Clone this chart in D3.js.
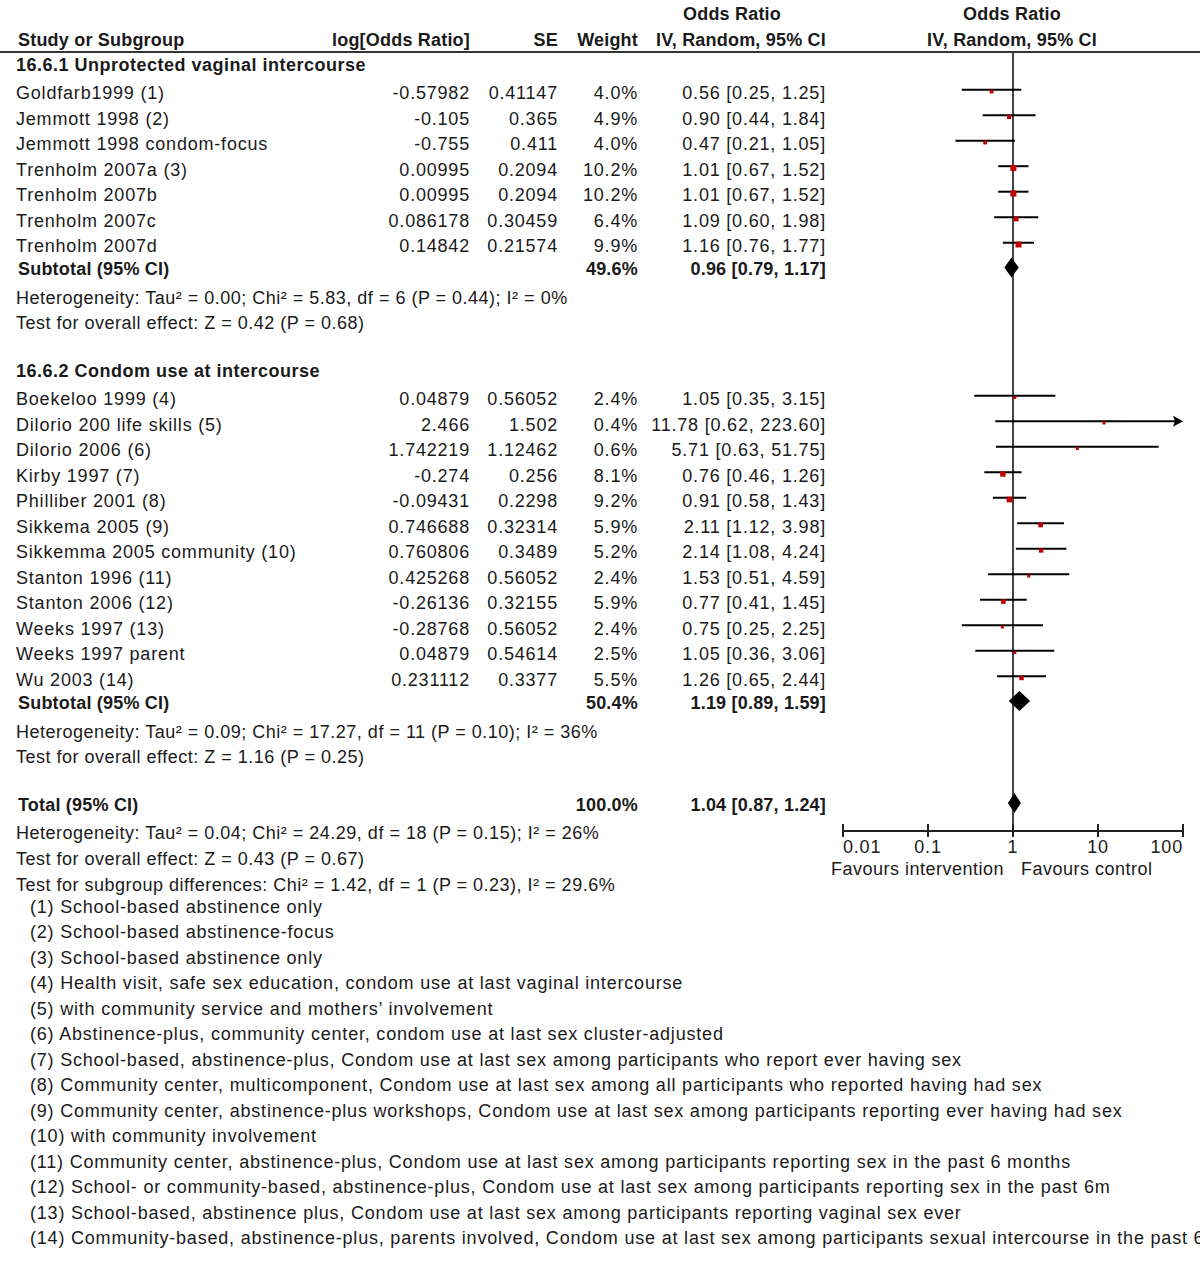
<!DOCTYPE html>
<html>
<head>
<meta charset="utf-8">
<script src="https://cdn.jsdelivr.net/npm/d3@7"></script>
<style>
  body { margin: 0; background: #fff; }
  svg { display: block; }
  text { font-family: "Liberation Sans", Arial, sans-serif; font-size: 18px; fill: #1a1a1a; }
  .reg { letter-spacing: 0.8px; }
  .note { letter-spacing: 0.5px; }
  .bold { font-weight: bold; letter-spacing: 0.2px; }
  .heading { font-weight: bold; letter-spacing: 0.5px; }
</style>
</head>
<body>
<svg id="chart" width="1200" height="1267"></svg>
<script>
// ---- data ----
let group1Title = '16.6.1 Unprotected vaginal intercourse'
let group1Names = ['Goldfarb1999 (1)', 'Jemmott 1998 (2)', 'Jemmott 1998 condom-focus', 'Trenholm 2007a (3)',
  'Trenholm 2007b', 'Trenholm 2007c', 'Trenholm 2007d']
let group1LogOR = ['-0.57982', '-0.105', '-0.755', '0.00995', '0.00995', '0.086178', '0.14842']
let group1SE = ['0.41147', '0.365', '0.411', '0.2094', '0.2094', '0.30459', '0.21574']
let group1Weight = [4.0, 4.9, 4.0, 10.2, 10.2, 6.4, 9.9]
let group1OR = [0.56, 0.90, 0.47, 1.01, 1.01, 1.09, 1.16]
let group1Lo = [0.25, 0.44, 0.21, 0.67, 0.67, 0.60, 0.76]
let group1Hi = [1.25, 1.84, 1.05, 1.52, 1.52, 1.98, 1.77]
let group1Sub = { weight: 49.6, or: 0.96, lo: 0.79, hi: 1.17 }
let group1Het = 'Heterogeneity: Tau² = 0.00; Chi² = 5.83, df = 6 (P = 0.44); I² = 0%'
let group1Test = 'Test for overall effect: Z = 0.42 (P = 0.68)'

let group2Title = '16.6.2 Condom use at intercourse'
let group2Names = ['Boekeloo 1999 (4)', 'Dilorio 200 life skills (5)', 'Dilorio 2006 (6)', 'Kirby 1997 (7)',
  'Philliber 2001 (8)', 'Sikkema 2005 (9)', 'Sikkemma 2005 community (10)', 'Stanton 1996 (11)',
  'Stanton 2006 (12)', 'Weeks 1997 (13)', 'Weeks 1997 parent', 'Wu 2003 (14)']
let group2LogOR = ['0.04879', '2.466', '1.742219', '-0.274', '-0.09431', '0.746688', '0.760806', '0.425268',
  '-0.26136', '-0.28768', '0.04879', '0.231112']
let group2SE = ['0.56052', '1.502', '1.12462', '0.256', '0.2298', '0.32314', '0.3489', '0.56052',
  '0.32155', '0.56052', '0.54614', '0.3377']
let group2Weight = [2.4, 0.4, 0.6, 8.1, 9.2, 5.9, 5.2, 2.4, 5.9, 2.4, 2.5, 5.5]
let group2OR = [1.05, 11.78, 5.71, 0.76, 0.91, 2.11, 2.14, 1.53, 0.77, 0.75, 1.05, 1.26]
let group2Lo = [0.35, 0.62, 0.63, 0.46, 0.58, 1.12, 1.08, 0.51, 0.41, 0.25, 0.36, 0.65]
let group2Hi = [3.15, 223.60, 51.75, 1.26, 1.43, 3.98, 4.24, 4.59, 1.45, 2.25, 3.06, 2.44]
let group2Sub = { weight: 50.4, or: 1.19, lo: 0.89, hi: 1.59 }
let group2Het = 'Heterogeneity: Tau² = 0.09; Chi² = 17.27, df = 11 (P = 0.10); I² = 36%'
let group2Test = 'Test for overall effect: Z = 1.16 (P = 0.25)'

let total = { weight: 100.0, or: 1.04, lo: 0.87, hi: 1.24 }
let totalLines = [
  'Heterogeneity: Tau² = 0.04; Chi² = 24.29, df = 18 (P = 0.15); I² = 26%',
  'Test for overall effect: Z = 0.43 (P = 0.67)',
  'Test for subgroup differences: Chi² = 1.42, df = 1 (P = 0.23), I² = 29.6%'
]

let footnotes = [
  '(1) School-based abstinence only',
  '(2) School-based abstinence-focus',
  '(3) School-based abstinence only',
  '(4) Health visit, safe sex education, condom use at last vaginal intercourse',
  '(5) with community service and mothers\u2019 involvement',
  '(6) Abstinence-plus, community center, condom use at last sex cluster-adjusted',
  '(7) School-based, abstinence-plus, Condom use at last sex among participants who report ever having sex',
  '(8) Community center, multicomponent, Condom use at last sex among all participants who reported having had sex',
  '(9) Community center, abstinence-plus workshops, Condom use at last sex among participants reporting ever having had sex',
  '(10) with community involvement',
  '(11) Community center, abstinence-plus, Condom use at last sex among participants reporting sex in the past 6 months',
  '(12) School- or community-based, abstinence-plus, Condom use at last sex among participants reporting sex in the past 6m',
  '(13) School-based, abstinence plus, Condom use at last sex among participants reporting vaginal sex ever',
  '(14) Community-based, abstinence-plus, parents involved, Condom use at last sex among participants sexual intercourse in the past 6'
]

let axisTicks = [0.01, 0.1, 1, 10, 100]
let axisLeftLabel = 'Favours intervention'
let axisRightLabel = 'Favours control'

// ---- layout ----
let svg = d3.select('#chart')
let W = 1200
let col = { study: 16, logor: 470, se: 558, weight: 638, ci: 826 }
let x = d3.scaleLog().domain([0.01, 100]).range([843, 1183])

let fmt2 = d3.format('.2f')
let ciText = (o, l, h) => `${fmt2(o)} [${fmt2(l)}, ${fmt2(h)}]`

// build rows top-down with a cursor
let rows = []
let y = 65
let build = (title, names, lor, se, wt, or, lo, hi, sub, het, test) => {
  rows.push({ type: 'heading', y, text: title })
  y += 28
  names.forEach((n, i) => {
    rows.push({ type: 'study', y, name: n, lor: lor[i], se: se[i], w: wt[i], or: or[i], lo: lo[i], hi: hi[i] })
    if (i < names.length - 1) y += 25.5
  })
  y += 23
  rows.push({ type: 'sub', y, name: 'Subtotal (95% CI)', w: sub.weight, or: sub.or, lo: sub.lo, hi: sub.hi })
  y += 29
  rows.push({ type: 'note', y, text: het })
  y += 25
  rows.push({ type: 'note', y, text: test })
  y += 48
}
build(group1Title, group1Names, group1LogOR, group1SE, group1Weight, group1OR, group1Lo, group1Hi, group1Sub, group1Het, group1Test)
build(group2Title, group2Names, group2LogOR, group2SE, group2Weight, group2OR, group2Lo, group2Hi, group2Sub, group2Het, group2Test)
rows.push({ type: 'sub', y, name: 'Total (95% CI)', w: total.weight, or: total.or, lo: total.lo, hi: total.hi })
y += 28
totalLines.forEach(t => {
  rows.push({ type: 'note', y, text: t })
  y += 26
})
y -= 4
footnotes.forEach(t => {
  rows.push({ type: 'foot', y, text: t })
  y += 25.5
})

// ---- header ----
let head = svg.append('g')
head.append('text').attr('class', 'bold').attr('x', 18).attr('y', 46).text('Study or Subgroup')
head.append('text').attr('class', 'bold').attr('x', col.logor).attr('y', 46).attr('text-anchor', 'end').text('log[Odds Ratio]')
head.append('text').attr('class', 'bold').attr('x', col.se).attr('y', 46).attr('text-anchor', 'end').text('SE')
head.append('text').attr('class', 'bold').attr('x', col.weight).attr('y', 46).attr('text-anchor', 'end').text('Weight')
head.append('text').attr('class', 'bold').attr('x', 732).attr('y', 20).attr('text-anchor', 'middle').text('Odds Ratio')
head.append('text').attr('class', 'bold').attr('x', col.ci).attr('y', 46).attr('text-anchor', 'end').text('IV, Random, 95% CI')
head.append('text').attr('class', 'bold').attr('x', 1012).attr('y', 20).attr('text-anchor', 'middle').text('Odds Ratio')
head.append('text').attr('class', 'bold').attr('x', 1012).attr('y', 46).attr('text-anchor', 'middle').text('IV, Random, 95% CI')
head.append('line').attr('x1', 0).attr('x2', W).attr('y1', 52).attr('y2', 52)
  .attr('stroke', '#333').attr('stroke-width', 2)

// ---- null line ----
let axisY = 831
svg.append('line')
  .attr('x1', x(1)).attr('x2', x(1)).attr('y1', 52).attr('y2', axisY)
  .attr('stroke', '#444').attr('stroke-width', 2)

// ---- table text ----
let g = svg.append('g')
let txt = (cls, xx, yy, s, anchor) => g.append('text').attr('class', cls)
  .attr('x', xx).attr('y', yy).attr('dy', '0.36em')
  .attr('text-anchor', anchor || 'start').text(s)

rows.forEach(r => {
  if (r.type === 'heading') txt('heading', col.study, r.y, r.text)
  if (r.type === 'note') txt('note', col.study, r.y, r.text)
  if (r.type === 'foot') txt('reg', 30, r.y, r.text)
  if (r.type === 'study') {
    txt('reg', col.study, r.y, r.name)
    txt('reg', col.logor, r.y, r.lor, 'end')
    txt('reg', col.se, r.y, r.se, 'end')
    txt('reg', col.weight, r.y, r.w.toFixed(1) + '%', 'end')
    txt('reg', col.ci, r.y, ciText(r.or, r.lo, r.hi), 'end')
  }
  if (r.type === 'sub') {
    txt('bold', col.study + 2, r.y, r.name)
    txt('bold', col.weight, r.y, r.w.toFixed(1) + '%', 'end')
    txt('bold', col.ci, r.y, ciText(r.or, r.lo, r.hi), 'end')
  }
})

// ---- forest marks ----
let plot = svg.append('g')
let studies = rows.filter(r => r.type === 'study')
let [xMin, xMax] = x.range()

plot.selectAll('.ci')
  .data(studies)
  .enter()
  .append('line')
  .attr('x1', d => Math.max(xMin, x(d.lo)))
  .attr('x2', d => Math.min(xMax - 6, x(d.hi)))
  .attr('y1', d => d.y - 3.3)
  .attr('y2', d => d.y - 3.3)
  .attr('stroke', '#000')
  .attr('stroke-width', 2)

// arrow where CI runs off the scale
plot.selectAll('.arrow')
  .data(studies.filter(d => d.hi > 100))
  .enter()
  .append('path')
  .attr('d', d => {
    let yy = d.y - 3.3
    return `M${xMax},${yy} L${xMax - 10},${yy - 5.5} L${xMax - 8},${yy} L${xMax - 10},${yy + 5.5} Z`
  })
  .attr('fill', '#000')

let boxSize = d => Math.max(3, Math.sqrt(d.w) * 1.9)
plot.selectAll('.box')
  .data(studies)
  .enter()
  .append('rect')
  .attr('x', d => x(d.or) - boxSize(d) / 2)
  .attr('y', d => d.y - 1.5 - boxSize(d) / 2)
  .attr('width', boxSize)
  .attr('height', boxSize)
  .attr('fill', '#c00000')

plot.selectAll('.diamond')
  .data(rows.filter(r => r.type === 'sub'))
  .enter()
  .append('path')
  .attr('d', d => {
    let cy = d.y - 1.5
    return `M${x(d.lo)},${cy} L${x(d.or)},${cy - 10} L${x(d.hi)},${cy} L${x(d.or)},${cy + 10} Z`
  })
  .attr('fill', '#000')

// ---- axis ----
let ax = svg.append('g')
ax.append('line').attr('x1', xMin).attr('x2', xMax).attr('y1', axisY).attr('y2', axisY)
  .attr('stroke', '#222').attr('stroke-width', 2)
ax.selectAll('.tick')
  .data(axisTicks)
  .enter()
  .append('line')
  .attr('x1', d => x(d)).attr('x2', d => x(d))
  .attr('y1', axisY - 7).attr('y2', axisY + 6)
  .attr('stroke', '#222').attr('stroke-width', 2)
ax.selectAll('.tlabel')
  .data(axisTicks)
  .enter()
  .append('text')
  .attr('class', 'reg')
  .attr('x', d => x(d))
  .attr('y', 853)
  .attr('text-anchor', (d, i) => i === 0 ? 'start' : (i === axisTicks.length - 1 ? 'end' : 'middle'))
  .text(d => d3.format('~g')(d))
ax.append('text').attr('class', 'note').attr('x', 1004).attr('y', 875).attr('text-anchor', 'end').text(axisLeftLabel)
ax.append('text').attr('class', 'note').attr('x', 1021).attr('y', 875).text(axisRightLabel)
</script>
</body>
</html>
